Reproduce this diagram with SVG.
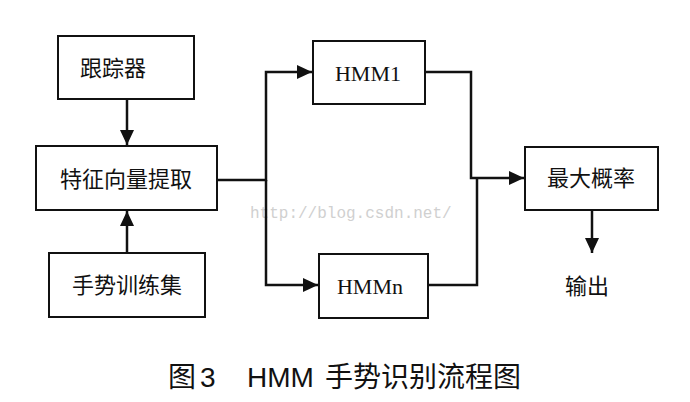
<svg xmlns="http://www.w3.org/2000/svg" width="690" height="402" viewBox="0 0 690 402">
<style>
.box{fill:#fff;stroke:#111;stroke-width:2}
.lbl{font-family:"Liberation Serif","Noto Sans CJK SC",serif;font-size:22px;fill:#111;text-anchor:middle;dominant-baseline:central}
.ln{fill:none;stroke:#111;stroke-width:2.5}
.cap{font-family:"Liberation Sans","Noto Sans CJK SC",sans-serif;font-size:28px;fill:#111}
.capz{font-family:"Noto Sans CJK SC",sans-serif;font-size:28px;fill:#111}
.wm{font-family:"Liberation Mono",monospace;font-size:16px;fill:#d0d0d0}
</style>
<defs>
<marker id="ah" markerWidth="16" markerHeight="14" refX="15" refY="7" orient="auto" markerUnits="userSpaceOnUse">
<path d="M0,0 L15,7 L0,14 Z" fill="#111"/>
</marker>
</defs>
<rect width="690" height="402" fill="#fff"/>
<text class="wm" x="250" y="218">http://blog.csdn.net/</text>
<g id="connectors">
<line class="ln" x1="127" y1="99" x2="127" y2="145" marker-end="url(#ah)"/>
<line class="ln" x1="127" y1="253" x2="127" y2="211" marker-end="url(#ah)"/>
<polyline class="ln" points="217,180 266,180 266,72 312,72" marker-end="url(#ah)"/>
<polyline class="ln" points="266,180 266,285 318,285" marker-end="url(#ah)"/>
<polyline class="ln" points="421,72 471,72 471,178 524,178" marker-end="url(#ah)"/>
<polyline class="ln" points="428,285 477,285 477,178"/>
<line class="ln" x1="592" y1="210" x2="592" y2="253" marker-end="url(#ah)"/>
</g>
<g id="tracker"><rect class="box" x="58" y="36" width="136" height="63"/><text class="lbl" x="113" y="68">跟踪器</text></g>
<g id="feature"><rect class="box" x="36" y="146" width="181" height="64"/><text class="lbl" x="126" y="179">特征向量提取</text></g>
<g id="train"><rect class="box" x="49" y="253" width="156" height="64"/><text class="lbl" x="127" y="285">手势训练集</text></g>
<g id="hmm1"><rect class="box" x="313" y="41" width="112" height="63"/><text class="lbl" x="368" y="73">HMM1</text></g>
<g id="hmmn"><rect class="box" x="319" y="254" width="109" height="64"/><text class="lbl" x="370" y="286">HMMn</text></g>
<g id="maxprob"><rect class="box" x="525" y="147" width="133" height="63"/><text class="lbl" x="591" y="178">最大概率</text></g>
<g id="output"><text class="lbl" x="587" y="286">输出</text></g>
<g id="caption">
<text class="capz" x="168" y="387">图</text>
<text class="cap" x="200" y="387">3</text>
<text class="cap" x="247" y="387">HMM</text>
<text class="capz" x="325" y="387">手势识别流程图</text>
</g>
</svg>
